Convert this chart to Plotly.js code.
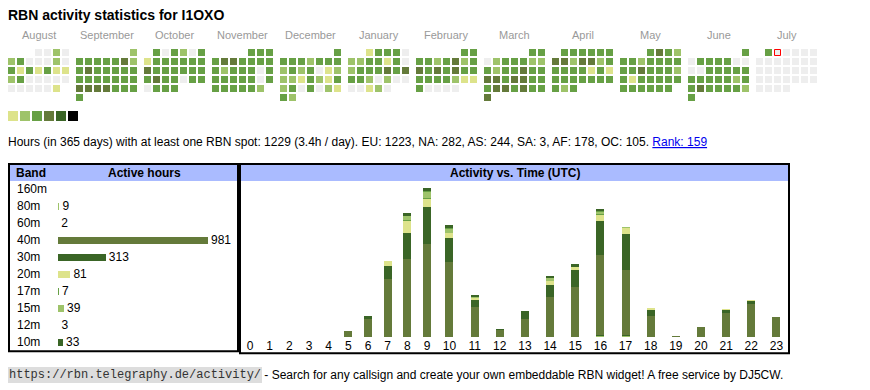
<!DOCTYPE html>
<html><head><meta charset="utf-8">
<script src="https://cdn.plot.ly/plotly-3.0.1.min.js"></script>
<style>html,body{margin:0;padding:0;background:#fff;overflow:hidden}</style>
</head><body><div id="chart" style="width:870px;height:390px"></div>
<script>
// ---------- DATA ----------
const callsign = 'I1OXO';
const monthNames = ['August','September','October','November','December','January','February','March','April','May','June','July'];
const monthYears = [2024,2024,2024,2024,2024,2025,2025,2025,2025,2025,2025,2025];
const monthNums  = [7,8,9,10,11,0,1,2,3,4,5,6]; // JS month index
// activity level per day (0 = none, 1..5 = increasing)
const lvAug = [0,0,2,0, 2,3,0,0,0,2,0, 3,1,3,1,3,1,1, 2,3,0,0,0,0,0, 0,0,0,0,0,1];
const lvSep = [2, 3,3,3,3,3,4,2, 3,4,3,3,3,3,3, 3,3,3,3,3,3,3, 4,4,4,4,3,3,3, 3];
const lvOct = [3,0,3,2,0,3, 1,3,3,3,3,3,3, 4,3,3,3,3,3,3, 3,4,3,3,0,3,3, 0,3,3,3];
const lvNov = [3,3,3, 3,4,4,3,3,3,3, 3,2,3,3,3,0,3, 3,3,3,3,3,0,3, 3,3,3,3,3,2];
const lvDec = [3, 3,3,3,2,3,3,3, 2,3,2,3,0,1,2, 2,2,1,3,2,1,3, 2,3,0,3,0,2,1, 3,2];
const lvJan = [1,3,3,3,0, 2,2,3,3,1,3,0, 2,3,3,3,4,3,4, 3,3,2,0,2,0,0, 0,0,1,2,0];
const lvFeb = [3,3, 3,3,2,3,4,2,3, 4,3,4,3,4,3,3, 3,3,3,3,2,1,1, 3,0,0,0,0];
const lvMar = [3,3, 0,2,3,3,3,2,2, 3,2,3,3,4,3,3, 4,4,3,4,4,3,3, 3,4,4,3,4,3,3, 4];
const lvApr = [3,3,3,3,3,3, 4,4,2,4,4,2,3, 3,3,3,3,1,3,1, 3,3,3,3,3,3,3, 3,2,3];
const lvMay = [3,4,3,2, 3,3,2,3,3,3,3, 3,3,4,3,3,3,2, 3,1,3,3,3,3,3, 3,3,3,3,3,3];
const lvJun = [3, 0,3,3,3,3,0,0, 0,0,3,3,3,3,3, 3,3,3,3,3,2,3, 3,4,3,3,3,3,2, 3];
const lvJul = [3,0,0,0,0,0,0,0,0,0,0,0,0,0,0,0,0,0,0,0,0,0,0,0,0,0,0,0,0,0,0];
const todayMonth = 11, todayDay = 2;
const levelColors = ['#eeeeee','#dde38b','#9ec36a','#67a045','#647a3a','#3a6526','#000000'];

const bands = ['160m','80m','60m','40m','30m','20m','17m','15m','12m','10m'];
const bandHours = [0,9,2,981,313,81,7,39,3,33];
const bandColors = ['#dde38b','#9ec36a','#3a6526','#647a3a','#3a6526','#dde38b','#67a045','#9ec36a','#67a045','#3a6526'];

const hours = [0,1,2,3,4,5,6,7,8,9,10,11,12,13,14,15,16,17,18,19,20,21,22,23];
const h160 = [0,0,0,0,0,0,0,0,0,0,0,0,0,0,0,0,0,0,0,0,0,0,0,0];
const h80  = [0,0,0,0,0,0,0,0,0,0,0,0,0,0,0,0,2,2,0,0,0,0,0,0];
const h60  = [0,0,0,0,0,0,0,0,0,0,0,0,0,0,0,0,1,1,0,0,0,0,0,0];
const h40  = [0,0,0,0,0,8,24,78,105,126,101,41,9,24,54,67,108,87,28,1,14,33,45,27];
const h30  = [0,0,0,0,0,0,4,18,35,49,32,9,1,11,16,24,46,49,8,1,0,4,4,0];
const h20  = [0,0,0,0,0,0,1,6,16,11,8,3,0,0,5,3,8,8,3,0,0,1,1,0];
const h17  = [0,0,0,0,0,0,0,0,2,2,0,0,0,0,0,0,1,0,0,0,0,0,0,0];
const h15  = [0,0,0,0,0,0,0,1,5,8,5,1,0,0,4,1,3,1,0,0,0,0,0,0];
const h12  = [0,0,0,0,0,0,0,0,0,1,1,0,0,0,0,0,1,0,0,0,0,0,0,0];
const h10  = [0,0,0,0,0,0,0,0,4,4,4,3,1,0,3,3,3,1,0,0,0,0,0,0];
const hourSeries = [h160,h80,h60,h40,h30,h20,h17,h15,h12,h10];

const totalHours = 1229, perDay = '3.4';
const contNames = ['EU','NA','AS','SA','AF','OC'];
const contHours = [1223,282,244,3,178,105];
const rank = 159;

// ---------- LAYOUT HELPERS ----------
const W = 870, H = 390;
const px = x => x / W;
const py = y => 1 - y / H;
const FONT = 'Liberation Sans, Arial, sans-serif';
const CELL = 9, BLOCK = 68 / 9;

// ---------- CALENDAR ----------
const monthLv = [lvAug,lvSep,lvOct,lvNov,lvDec,lvJan,lvFeb,lvMar,lvApr,lvMay,lvJun,lvJul];
const cx = [], cy = [], cc = [];
let todayX = 0, todayY = 0;
monthLv.forEach((arr, m) => {
  const start = (new Date(Date.UTC(monthYears[m], monthNums[m], 1)).getUTCDay() + 6) % 7;
  arr.forEach((lv, d) => {
    const idx = start + d;
    const X = m * BLOCK + (idx % 7), Y = Math.floor(idx / 7);
    cx.push(X); cy.push(Y); cc.push(levelColors[lv]);
    if (m === todayMonth && d === todayDay - 1) { todayX = X; todayY = Y; }
  });
});

const traces = [];
traces.push({type:'scatter', mode:'markers', x:cx, y:cy, xaxis:'x', yaxis:'y',
  marker:{symbol:'square', size:7, color:cc, line:{width:0}}, hoverinfo:'skip'});
traces.push({type:'scatter', mode:'markers', x:[todayX], y:[todayY], xaxis:'x', yaxis:'y',
  marker:{symbol:'square', size:6, color:'#eeeeee', line:{width:1, color:'#ff0000'}}, hoverinfo:'skip'});
// legend swatches
const lgX = levelColors.slice(1).map((c,k) => (13 + 12*k - 11.5) / CELL);
const lgY = levelColors.slice(1).map(() => (116 - 52.5) / CELL);
traces.push({type:'scatter', mode:'markers', x:lgX, y:lgY, xaxis:'x', yaxis:'y',
  marker:{symbol:'square', size:10, color:levelColors.slice(1), line:{width:0}}, hoverinfo:'skip'});

// ---------- HOURLY STACK ----------
const splitA = hours.filter(h => h < 10), splitB = hours.filter(h => h >= 10);
hourSeries.forEach((ser, b) => {
  traces.push({type:'bar', x:splitA, y:ser.slice(0,10), xaxis:'x2', yaxis:'y2', width:0.4066,
    marker:{color:bandColors[b], line:{width:0}}, hoverinfo:'skip', name:bands[b]});
  traces.push({type:'bar', x:splitB, y:ser.slice(10), xaxis:'x3', yaxis:'y2', width:0.318,
    marker:{color:bandColors[b], line:{width:0}}, hoverinfo:'skip', name:bands[b]});
});

// ---------- BAND BARS ----------
traces.push({type:'bar', orientation:'h', x:bandHours, y:bands, xaxis:'x4', yaxis:'y4', width:0.41,
  marker:{color:bandColors, line:{width:0}}, text:bandHours.map(v => v > 0 ? String(v) : ''),
  textposition:'outside', cliponaxis:false, constraintext:'none',
  textfont:{family:FONT, size:12, color:'#000'}, hoverinfo:'skip'});

// ---------- ANNOTATIONS ----------
const ann = [];
const addText = (text, x, y, opts) => ann.push(Object.assign({text, x:px(x), y:py(y), xref:'paper', yref:'paper',
  xanchor:'left', yanchor:'middle', showarrow:false, borderpad:0, borderwidth:0,
  font:{family:FONT, size:12, color:'#000'}}, opts || {}));

addText('<b>RBN activity statistics for ' + callsign + '</b>', 8, 15.5, {font:{family:FONT, size:14, color:'#000'}});
monthNames.forEach((n, m) => ann.push({text:n, x:m*BLOCK + 3, y:(35 - 52.5)/CELL, xref:'x', yref:'y',
  xanchor:'center', yanchor:'middle', showarrow:false, font:{family:FONT, size:11, color:'#999999'}}));
const contStr = contNames.map((c,i) => c + ': ' + contHours[i]).join(', ');
addText('Hours (in 365 days) with at least one RBN spot: ' + totalHours + ' (' + perDay + 'h / day). ' + contStr +
  '. <span style="color:#0000ee;text-decoration:underline">Rank: ' + rank + '</span>', 8, 142);
addText('<b>Band</b>', 16, 173);
addText('<b>Active hours</b>', 144, 173, {xanchor:'center'});
addText('<b>Activity vs. Time (UTC)</b>', 514.5, 173, {xanchor:'center'});
bands.forEach(b => ann.push({text:b, x:px(16), y:b, xref:'paper', yref:'y4', xanchor:'left', yanchor:'middle',
  showarrow:false, borderpad:0, font:{family:FONT, size:12, color:'#000'}}));
addText('https://rbn.telegraphy.de/activity/', 8, 374.5, {bgcolor:'#dddddd', borderpad:1,
  font:{family:'Liberation Mono, DejaVu Sans Mono, monospace', size:12, color:'#333'}});
addText(' - Search for any callsign and create your own embeddable RBN widget! A free service by DJ5CW.', 261, 374.5);

// ---------- SHAPES ----------
const shapes = [
  {type:'rect', xref:'paper', yref:'paper', x0:px(10), x1:px(237), y0:py(181), y1:py(165), fillcolor:'#aabbff', line:{width:0}, layer:'below'},
  {type:'rect', xref:'paper', yref:'paper', x0:px(241), x1:px(788), y0:py(181), y1:py(165), fillcolor:'#aabbff', line:{width:0}, layer:'below'},
  {type:'rect', xref:'paper', yref:'paper', x0:px(9), x1:px(238), y0:py(351.3), y1:py(164), line:{width:2, color:'#000'}},
  {type:'rect', xref:'paper', yref:'paper', x0:px(240), x1:px(789), y0:py(353.3), y1:py(164), line:{width:2, color:'#000'}}
];

const hidden = {visible:false, fixedrange:true};
const tickAx = (dom, rng, vals) => ({domain:dom, range:rng, anchor:'y2', tickvals:vals, ticktext:vals.map(String),
  showgrid:false, zeroline:false, showline:false, ticks:'', fixedrange:true,
  tickfont:{family:FONT, size:12, color:'#000'}});

const layout = {
  width:W, height:H, margin:{l:0,r:0,t:0,b:0}, paper_bgcolor:'#ffffff', plot_bgcolor:'rgba(0,0,0,0)',
  showlegend:false, barmode:'stack', bargap:0,
  xaxis: Object.assign({domain:[0,1], range:[-11.5/CELL, (W-11.5)/CELL], anchor:'y'}, hidden),
  yaxis: Object.assign({domain:[0,1], range:[(H-52.5)/CELL, -52.5/CELL], anchor:'x'}, hidden),
  xaxis2: tickAx([px(240.15), px(436.9)], [-0.5, 9.5], splitA),
  xaxis3: tickAx([px(436.9), px(789)], [9.5, 23.5], splitB),
  yaxis2: Object.assign({domain:[py(337), py(181)], range:[0, 210.6], anchor:'x2'}, hidden),
  xaxis4: Object.assign({domain:[px(58), px(208)], range:[0, 981], anchor:'y4'}, hidden),
  yaxis4: Object.assign({domain:[py(350.8), py(180.8)], type:'category', categoryarray:bands, range:[9.5,-0.5], anchor:'x4'}, hidden),
  annotations: ann, shapes: shapes
};
Plotly.newPlot('chart', traces, layout, {displayModeBar:false, staticPlot:true});
</script></body></html>
